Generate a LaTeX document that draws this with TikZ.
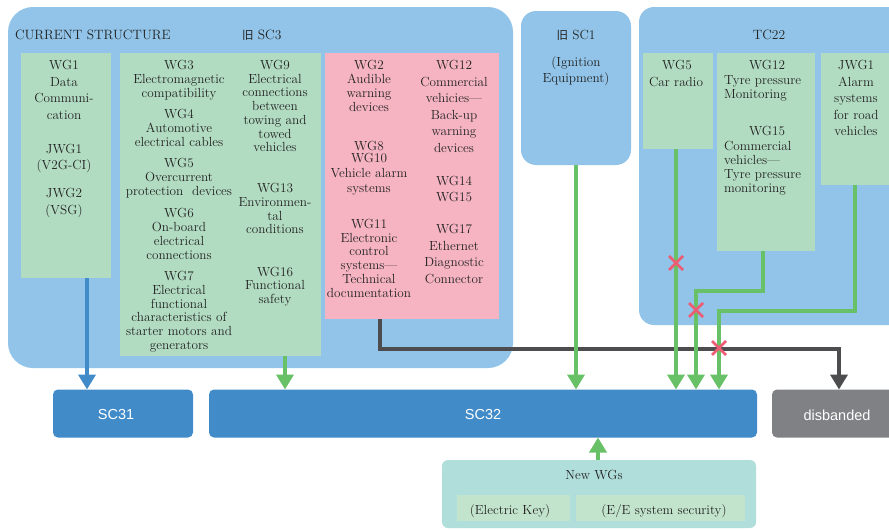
\documentclass[tikz,border=0pt]{standalone}
\usepackage{fontspec}
\newfontfamily\cjk{Noto Sans CJK JP}
\newfontfamily\sansf{Liberation Sans}
\usetikzlibrary{arrows.meta}
\definecolor{lb}{HTML}{91C4E8}
\definecolor{gbx}{HTML}{B2DCC2}
\definecolor{pk}{HTML}{F6B4C2}
\definecolor{sb}{HTML}{418BC9}
\definecolor{gy}{HTML}{808184}
\definecolor{dk}{HTML}{4D4D4F}
\definecolor{gl}{HTML}{69C167}
\definecolor{rx}{HTML}{EE5C74}
\definecolor{tl}{HTML}{B0DEDB}
\definecolor{ig}{HTML}{C2E4CC}
\definecolor{tc}{HTML}{222222}
\tikzset{
  bx/.style={inner sep=0pt, outer sep=0pt, draw=none},
  gb/.style={bx, fill=gbx},
  tx/.style={text=tc, inner sep=0pt, outer sep=0pt, align=center, anchor=base, font=\fontsize{13.2}{14}\selectfont},
  txl/.style={tx, font=\fontsize{13.2}{16.5}\selectfont},
  ttl/.style={text=tc, inner sep=0pt, outer sep=0pt, anchor=base west, font=\fontsize{13.5}{14}\selectfont},
  sclab/.style={text=white, inner sep=0pt, outer sep=0pt, font=\sansf\fontsize{14.5}{14.5}\selectfont},
  arr/.style={line width=4pt, -{Triangle[length=15pt,width=17pt]}},
  bluearr/.style={arr, draw=sb},
  greenarr/.style={arr, draw=gl},
  grayarr/.style={arr, draw=dk},
  redx/.style={draw=rx, line width=2.5pt}
}
\begin{document}
\begin{tikzpicture}[x=1pt,y=-1pt]
\useasboundingbox (0,0) rectangle (889,530);
% containers
\node[bx, fill=lb, rounded corners=25pt, minimum width=505pt, minimum height=361pt] (sc3) at (260.5,187.5) {};
\node[bx, fill=lb, rounded corners=15pt, minimum width=110pt, minimum height=154pt] (sc1) at (576,88) {};
\node[bx, fill=lb, rounded corners=15pt, minimum width=266pt, minimum height=318pt] (tc22) at (772,166) {};
% inner boxes
\node[gb, minimum width=90pt, minimum height=225pt] (wg1box) at (66,165.5) {};
\node[gb, minimum width=201pt, minimum height=303pt] (wg3box) at (220.5,204.5) {};
\node[bx, fill=pk, minimum width=174pt, minimum height=266pt] (pinkbox) at (412,186) {};
\node[gb, minimum width=70pt, minimum height=96pt] (wg5box) at (678,101) {};
\node[gb, minimum width=98pt, minimum height=198pt] (wg12box) at (766,152) {};
\node[gb, minimum width=84pt, minimum height=132pt] (jwg1box) at (863,119) {};
% bottom boxes
\node[bx, fill=sb, rounded corners=5pt, minimum width=140pt, minimum height=48pt] (sc31) at (123,413.5) {};
\node[bx, fill=sb, rounded corners=5pt, minimum width=548pt, minimum height=48pt] (sc32) at (483,413.5) {};
\node[bx, fill=gy, rounded corners=5pt, minimum width=130pt, minimum height=48pt] (disb) at (837,413.5) {};
\node[bx, fill=tl, rounded corners=6pt, minimum width=314pt, minimum height=68pt] (newwg) at (599,494) {};
\node[bx, fill=ig, minimum width=113pt, minimum height=26pt] (ekey) at (513.5,508) {};
\node[bx, fill=ig, minimum width=169pt, minimum height=26pt] (eesec) at (660.5,508) {};
% connectors
\coordinate (c1) at ([xshift=21pt]wg1box.south);
\draw[bluearr] (c1) -- (c1 |- sc31.north);
\coordinate (c2) at ([xshift=64.5pt]wg3box.south);
\draw[greenarr] (c2) -- (c2 |- sc32.north);
\coordinate (c3) at ([xshift=-32pt]pinkbox.south);
\coordinate (g1) at (380,349);
\coordinate (g2) at (839,349);
\draw[grayarr] (c3) -- (g1) -- (g2) -- (g2 |- disb.north);
\draw[greenarr] (sc1.south) -- (sc1.south |- sc32.north);
\coordinate (c5) at ([xshift=-2pt]wg5box.south);
\draw[greenarr] (c5) -- (c5 |- sc32.north);
\coordinate (c6) at ([xshift=-3pt]wg12box.south);
\coordinate (k1) at (696,291);
\draw[greenarr] (c6) |- (k1) -- (k1 |- sc32.north);
\coordinate (c7) at ([xshift=-8pt]jwg1box.south);
\coordinate (k2) at (719,311);
\draw[greenarr] (c7) |- (k2) -- (k2 |- sc32.north);
\coordinate (c8) at ([xshift=-1pt]newwg.north);
\draw[greenarr] (c8) -- (c8 |- sc32.south);
% red crosses
\coordinate (x1) at (676,263);
\coordinate (x2) at (696,310);
\coordinate (x3) at (719,348);
\foreach \p in {x1,x2,x3}{
  \draw[redx] ([shift={(-7,-7)}]\p) -- ([shift={(7,7)}]\p) ([shift={(-7,7)}]\p) -- ([shift={(7,-7)}]\p);
}
% titles
\node[ttl] (t0) at (15,39.5) {CURRENT STRUCTURE};
\node[ttl] (t0b) at (242,39.5) {{\cjk\fontsize{11.5}{12}\selectfont 旧} SC3};
\node[tx, anchor=base] (t0c) at (576,39.5) {{\cjk\fontsize{11.5}{12}\selectfont 旧} SC1};
\node[tx, font=\fontsize{13.2}{16}\selectfont, text width=110pt] (t0d) at (576,66.5) {(Ignition\\Equipment)};
\node[tx, font=\fontsize{13.5}{14}\selectfont] (t0e) at (769,39.5) {TC22};
% WG1 column
\node[txl, text width=88pt] (t1) at (64,69.5) {WG1\\Data\\Communi-\\cation};
\node[tx, font=\fontsize{13.2}{16}\selectfont, text width=88pt] (t2) at (64,153.5) {JWG1\\(V2G-CI)};
\node[tx, font=\fontsize{13.2}{16.5}\selectfont, text width=88pt] (t3) at (64,197.5) {JWG2\\(VSG)};
% left green column
\node[tx, text width=120pt] (t4) at (179,69.5) {WG3\\Electromagnetic\\compatibility};
\node[tx, text width=120pt] (t5) at (179,118.5) {WG4\\Automotive\\electrical cables};
\node[tx, text width=120pt] (t6) at (179,167.5) {WG5\\Overcurrent\\protection~ devices};
\node[tx, text width=120pt] (t7) at (179,217.5) {WG6\\On-board\\electrical\\connections};
\node[tx, font=\fontsize{13.2}{13.8}\selectfont, text width=120pt] (t8) at (179,280.5) {WG7\\Electrical\\functional\\characteristics of\\starter motors and\\generators};
% right green column
\node[tx, font=\fontsize{13.2}{13.7}\selectfont, text width=90pt] (t9) at (275,69.5) {WG9\\Electrical\\connections\\between\\towing and\\towed\\vehicles};
\node[tx, font=\fontsize{13.2}{13.8}\selectfont, text width=90pt] (t10) at (275,192.5) {WG13\\Environmen-\\tal\\conditions};
\node[tx, font=\fontsize{13.2}{13.3}\selectfont, text width=90pt] (t11) at (275,276.5) {WG16\\Functional\\safety};
% pink left column
\node[tx, font=\fontsize{13.2}{14}\selectfont, text width=90pt] (t12) at (369,69.5) {WG2\\Audible\\warning\\devices};
\node[tx, font=\fontsize{13.2}{12}\selectfont, text width=90pt] (t13) at (369,150) {WG8\\WG10};
\node[tx, font=\fontsize{13.2}{15}\selectfont, text width=90pt] (t13b) at (369,177) {Vehicle alarm\\systems};
\node[tx, font=\fontsize{13.2}{13.7}\selectfont, text width=90pt] (t14) at (369,228.5) {WG11\\Electronic\\control\\systems—\\Technical\\documentation};
% pink right column
\node[txl, text width=90pt] (t15) at (454,69.5) {WG12\\Commercial\\vehicies—\\Back-up\\warning\\devices};
\node[tx, font=\fontsize{13.2}{16}\selectfont, text width=90pt] (t16) at (454,185.5) {WG14\\WG15};
\node[txl, text width=90pt] (t17) at (454,233.5) {WG17\\Ethernet\\Diagnostic\\Connector};
% TC22 boxes
\node[tx, text width=70pt] (t18) at (677,69.5) {WG5};
\node[tx, text width=70pt] (t18b) at (676,86.5) {Car radio};
\node[tx, text width=90pt] (t19) at (767,69.5) {WG12};
\node[tx, align=left, text width=90pt, anchor=base west] (t19b) at (724,84.5) {Tyre pressure\\Monitoring};
\node[tx, text width=90pt] (t20) at (767,135.5) {WG15};
\node[tx, align=left, text width=90pt, anchor=base west] (t20b) at (724,150.5) {Commercial\\vehicles—\\Tyre pressure\\monitoring};
\node[txl, text width=80pt] (t21) at (856,69.5) {JWG1\\Alarm\\systems\\for road\\vehicles};
% bottom labels
\node[sclab] (l31) at (116,415) {SC31};
\node[sclab] (l32) at (483,415) {SC32};
\node[sclab] (l33) at (837,415.5) {disbanded};
\node[tx] (l34) at (594,479.5) {New WGs};
\node[tx] (l35) at (510,514.5) {(Electric Key)};
\node[tx] (l36) at (664,514.5) {(E/E system security)};
\end{tikzpicture}
\end{document}
